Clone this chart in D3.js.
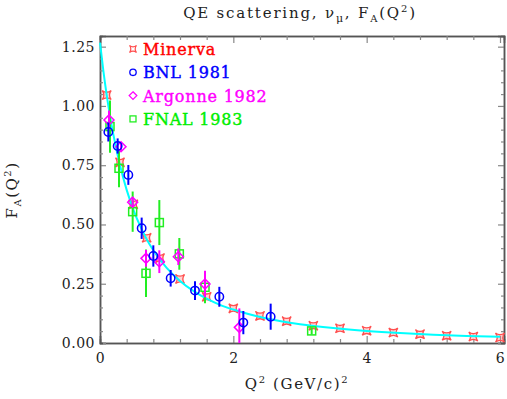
<!DOCTYPE html>
<html>
<head>
<meta charset="utf-8">
<script src="https://cdn.jsdelivr.net/npm/d3@7"></script>
<style>
  body { margin: 0; background: #fff; }
  svg text { font-family: 'DejaVu Serif', serif; }
</style>
</head>
<body>
<svg id="chart" width="507" height="399"></svg>
<script>
// Minerva points (no visible error bars)
const minervaQ2 = [0.1, 0.3, 0.5, 0.7, 0.9, 1.2, 1.6, 2.0, 2.4, 2.8, 3.2, 3.6, 4.0, 4.4, 4.8, 5.2, 5.6, 6.0];
const minervaFA = [1.046, 0.762, 0.585, 0.444, 0.358, 0.27, 0.195, 0.146, 0.114, 0.092, 0.073, 0.062, 0.052, 0.044, 0.037, 0.031, 0.027, 0.023];

// BNL 1981
const bnlQ2 = [0.125, 0.265, 0.425, 0.625, 0.8, 1.06, 1.425, 1.79, 2.15, 2.56];
const bnlFA = [0.89, 0.831, 0.709, 0.484, 0.367, 0.273, 0.221, 0.195, 0.086, 0.111];
const bnlErr = [0.04, 0.032, 0.042, 0.045, 0.045, 0.035, 0.04, 0.042, 0.049, 0.055];

// Argonne 1982
const anlQ2 = [0.135, 0.315, 0.49, 0.69, 0.89, 1.175, 1.575, 2.09];
const anlFA = [0.941, 0.828, 0.594, 0.357, 0.343, 0.364, 0.249, 0.066];
const anlErr = [0.04, 0.02, 0.02, 0.035, 0.048, 0.035, 0.056, 0.08];

// FNAL 1983
const fnalQ2 = [0.15, 0.285, 0.49, 0.69, 0.89, 1.19, 1.575, 3.175];
const fnalFA = [0.913, 0.737, 0.554, 0.294, 0.508, 0.376, 0.235, 0.051];
const fnalErr = [0.11, 0.08, 0.085, 0.1, 0.095, 0.067, 0.067, 0.015];

// fitted curve
const curveQ2 = [0, 0.05, 0.1, 0.15, 0.2, 0.3, 0.4, 0.5, 0.6, 0.7, 0.8, 1.0, 1.2, 1.4, 1.6, 1.8, 2.0, 2.5, 3.0, 3.5, 4.0, 4.5, 5.0, 5.5, 6.0];
const curveFA = [1.267, 1.149, 1.047, 0.958, 0.88, 0.75, 0.646, 0.563, 0.495, 0.438, 0.391, 0.317, 0.262, 0.22, 0.187, 0.161, 0.141, 0.103, 0.079, 0.063, 0.051, 0.042, 0.035, 0.030, 0.026];

const xMajor = [0, 2, 4, 6];
const yMajor = [0, 0.25, 0.5, 0.75, 1.0, 1.25];

const legendNames = ['Minerva', 'BNL 1981', 'Argonne 1982', 'FNAL 1983'];
const legendColors = ['#ff0000', '#0000ff', '#ff00ff', '#00ee00'];

const svg = d3.select('#chart');
const frame = { left: 100, right: 504, top: 36, bottom: 343 };

const x = d3.scaleLinear().domain([0, 6.06]).range([frame.left, frame.right]);
const y = d3.scaleLinear().domain([0, 1.295]).range([frame.bottom, frame.top]);

// axes: ticks pointing inward on all four sides
function styleAxis(g) {
    g.select('.domain').attr('stroke', '#555').attr('stroke-width', 1.5);
    g.selectAll('.tick line').attr('stroke', '#888').attr('stroke-width', 1.2);
    g.selectAll('.tick text').attr('fill', '#222').style('font-size', '14px').style('letter-spacing', '0.5px');
}

const xMinor = d3.range(0, 6.01, 0.4).filter(v => !xMajor.some(m => Math.abs(m - v) < 1e-6));
const yMinor = d3.range(0, 1.296, 0.05).filter(v => !yMajor.some(m => Math.abs(m - v) < 1e-6));

svg.append('g').attr('transform', `translate(0,${frame.bottom})`)
    .call(d3.axisBottom(x).tickValues(xMajor).tickSize(-7).tickPadding(10).tickFormat(d3.format('d')))
    .call(styleAxis);
svg.append('g').attr('transform', `translate(0,${frame.bottom})`)
    .call(d3.axisBottom(x).tickValues(xMinor).tickSize(-4).tickFormat(''))
    .call(styleAxis);
svg.append('g').attr('transform', `translate(0,${frame.top})`)
    .call(d3.axisTop(x).tickValues(xMajor).tickSize(-7).tickFormat(''))
    .call(styleAxis);
svg.append('g').attr('transform', `translate(0,${frame.top})`)
    .call(d3.axisTop(x).tickValues(xMinor).tickSize(-4).tickFormat(''))
    .call(styleAxis);

svg.append('g').attr('transform', `translate(${frame.left},0)`)
    .call(d3.axisLeft(y).tickValues(yMajor).tickSize(-6).tickPadding(5).tickFormat(d3.format('.2f')))
    .call(styleAxis);
svg.append('g').attr('transform', `translate(${frame.left},0)`)
    .call(d3.axisLeft(y).tickValues(yMinor).tickSize(-3).tickFormat(''))
    .call(styleAxis);
svg.append('g').attr('transform', `translate(${frame.right},0)`)
    .call(d3.axisRight(y).tickValues(yMajor).tickSize(-6).tickFormat(''))
    .call(styleAxis);
svg.append('g').attr('transform', `translate(${frame.right},0)`)
    .call(d3.axisRight(y).tickValues(yMinor).tickSize(-3).tickFormat(''))
    .call(styleAxis);

// titles
const title = svg.append('text')
    .attr('x', 300).attr('y', 18)
    .attr('text-anchor', 'middle')
    .attr('fill', '#222')
    .style('font-size', '15px')
    .style('letter-spacing', '1.8px');
title.append('tspan').text('QE scattering, ν');
title.append('tspan').attr('dy', 4).style('font-size', '11px').text('μ');
title.append('tspan').attr('dy', -4).text(', F');
title.append('tspan').attr('dy', 4).style('font-size', '10px').text('A');
title.append('tspan').attr('dy', -4).text('(Q');
title.append('tspan').attr('dy', -6).style('font-size', '10px').text('2');
title.append('tspan').attr('dy', 6).text(')');

const xTitle = svg.append('text')
    .attr('x', 297).attr('y', 389)
    .attr('text-anchor', 'middle')
    .attr('fill', '#222')
    .style('font-size', '15px')
    .style('letter-spacing', '1.6px');
xTitle.append('tspan').text('Q');
xTitle.append('tspan').attr('dy', -6).style('font-size', '10px').text('2');
xTitle.append('tspan').attr('dy', 6).text(' (GeV/c)');
xTitle.append('tspan').attr('dy', -6).style('font-size', '10px').text('2');

const yTitle = svg.append('text')
    .attr('transform', 'translate(17,190) rotate(-90)')
    .attr('text-anchor', 'middle')
    .attr('fill', '#222')
    .style('font-size', '15px')
    .style('letter-spacing', '1.5px');
yTitle.append('tspan').text('F');
yTitle.append('tspan').attr('dy', 4).style('font-size', '10px').text('A');
yTitle.append('tspan').attr('dy', -4).text('(Q');
yTitle.append('tspan').attr('dy', -6).style('font-size', '10px').text('2');
yTitle.append('tspan').attr('dy', 6).text(')');

// marker shapes
function minervaPath(s) {
    const c = s * 0.25;
    return `M${-s},${-s}Q0,${-c} ${s},${-s}Q${c},0 ${s},${s}Q0,${c} ${-s},${s}Q${-c},0 ${-s},${-s}Z`;
}
function diamondPath(s) {
    return `M0,${-s}L${s},0L0,${s}L${-s},0Z`;
}

const plot = svg.append('g');

// Minerva
plot.append('g').selectAll('path')
    .data(minervaQ2.map((q, i) => ({ q, f: minervaFA[i] })))
    .enter()
    .append('path')
        .attr('d', minervaPath(4.5))
        .attr('transform', d => `translate(${x(d.q)},${y(d.f)})`)
        .attr('fill', '#ff8080').attr('fill-opacity', 0.35)
        .attr('stroke', '#ff5050').attr('stroke-width', 1.3);

// fitted curve
plot.append('path')
    .datum(curveQ2.map((q, i) => ({ q, f: curveFA[i] })))
    .attr('fill', 'none')
    .attr('stroke', '#00ffff')
    .attr('stroke-width', 2)
    .attr('d', d3.line().x(d => x(d.q)).y(d => y(d.f)).curve(d3.curveMonotoneX));

function drawSet(qs, fs, errs, color, shape) {
    const data = qs.map((q, i) => ({ q, f: fs[i], e: errs[i] }));
    const g = plot.append('g');
    g.selectAll('line')
        .data(data)
        .enter()
        .append('line')
            .attr('x1', d => x(d.q)).attr('x2', d => x(d.q))
            .attr('y1', d => y(Math.max(0, d.f - d.e)))
            .attr('y2', d => y(d.f + d.e))
            .attr('stroke', color).attr('stroke-width', 2);
    const m = g.selectAll('.mk')
        .data(data)
        .enter();
    if (shape === 'circle') {
        m.append('circle')
            .attr('cx', d => x(d.q)).attr('cy', d => y(d.f)).attr('r', 4.2)
            .attr('fill', 'none').attr('stroke', color).attr('stroke-width', 1.5);
    } else if (shape === 'diamond') {
        m.append('path')
            .attr('d', diamondPath(5))
            .attr('transform', d => `translate(${x(d.q)},${y(d.f)})`)
            .attr('fill', 'none').attr('stroke', color).attr('stroke-width', 1.5);
    } else {
        m.append('rect')
            .attr('x', d => x(d.q) - 4).attr('y', d => y(d.f) - 4)
            .attr('width', 8).attr('height', 8)
            .attr('fill', 'none').attr('stroke', color).attr('stroke-width', 1.5);
    }
}

drawSet(fnalQ2, fnalFA, fnalErr, '#22ee22', 'square');
drawSet(anlQ2, anlFA, anlErr, '#ff00ff', 'diamond');
drawSet(bnlQ2, bnlFA, bnlErr, '#0000ff', 'circle');

// legend
const legend = svg.append('g');
const shapes = ['minerva', 'circle', 'diamond', 'square'];
legendNames.forEach((name, i) => {
    const ly = 49 + i * 23.3;
    const col = legendColors[i];
    if (shapes[i] === 'minerva') {
        legend.append('path').attr('d', minervaPath(3.5))
            .attr('transform', `translate(133,${ly})`)
            .attr('fill', 'none').attr('stroke', '#ff5050').attr('stroke-width', 1.2);
    } else if (shapes[i] === 'circle') {
        legend.append('circle').attr('cx', 133).attr('cy', ly).attr('r', 3.2)
            .attr('fill', 'none').attr('stroke', col).attr('stroke-width', 1.3);
    } else if (shapes[i] === 'diamond') {
        legend.append('path').attr('d', diamondPath(3.8))
            .attr('transform', `translate(133,${ly})`)
            .attr('fill', 'none').attr('stroke', col).attr('stroke-width', 1.3);
    } else {
        legend.append('rect').attr('x', 130).attr('y', ly - 3).attr('width', 6).attr('height', 6)
            .attr('fill', 'none').attr('stroke', '#22ee22').attr('stroke-width', 1.3);
    }
    legend.append('text')
        .attr('x', 143).attr('y', ly + 6)
        .attr('fill', col)
        .attr('stroke', col).attr('stroke-width', 0.4)
        .style('font-size', '16px')
        .style('letter-spacing', '0.8px')
        .text(name);
});
</script>
</body>
</html>
